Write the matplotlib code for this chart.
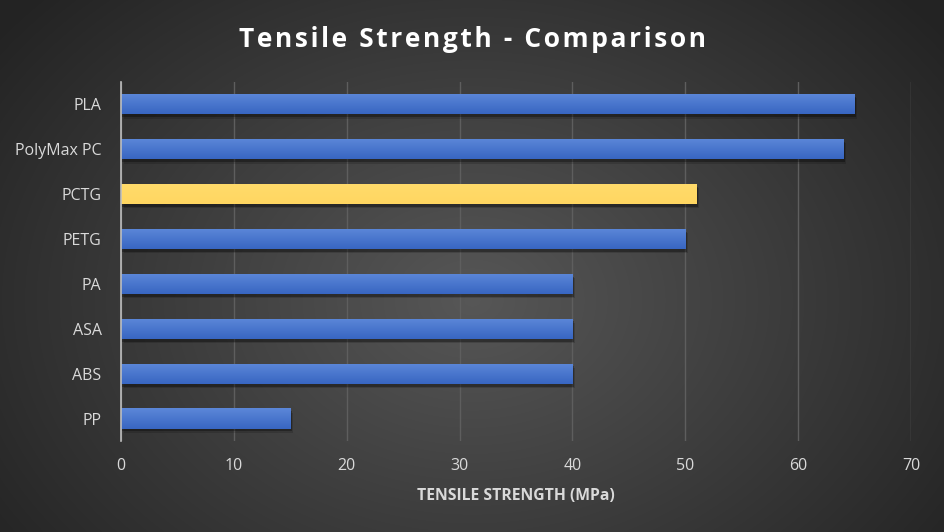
import matplotlib
matplotlib.use("Agg")
import matplotlib.pyplot as plt
import matplotlib.patheffects as pe
import numpy as np

materials = ["PLA", "PolyMax PC", "PCTG", "PETG", "PA", "ASA", "ABS", "PP"]
strength = [65, 64, 51, 50, 40, 40, 40, 15]
highlight = "PCTG"
x_ticks = [0, 10, 20, 30, 40, 50, 60, 70]
title = "Tensile Strength - Comparison"

BLUE_TOP = np.array([0.36, 0.53, 0.85])
BLUE_BOT = np.array([0.22, 0.40, 0.76])
YEL_TOP = np.array([1.00, 0.86, 0.42])
YEL_BOT = np.array([1.00, 0.84, 0.38])
TEXT = "#d9d9d9"

plt.rcParams["font.family"] = ["Open Sans", "DejaVu Sans"]

fig = plt.figure(figsize=(9.45, 5.32), dpi=100)

# radial gradient background
bg = fig.add_axes([0, 0, 1, 1], zorder=-10)
yy, xx = np.mgrid[0:532, 0:945]
r = np.sqrt(((xx - 472) / 560.0) ** 2 + ((yy - 300) / 420.0) ** 2)
shade = np.clip(0.34 - 0.19 * r, 0.14, 0.34)
bg.imshow(np.dstack([shade] * 3), aspect="auto", extent=[0, 1, 0, 1])
bg.axis("off")

ax = fig.add_axes([0.128, 0.171, 0.836, 0.675])
ax.set_facecolor("none")

ypos = np.arange(len(materials))
bars = ax.barh(ypos, strength, height=0.45, color="#4472c4", zorder=3,
               path_effects=[pe.SimplePatchShadow(offset=(1, -2), alpha=0.3, shadow_rgbFace="black"),
                             pe.SimplePatchShadow(offset=(2, -3), alpha=0.15, shadow_rgbFace="black"),
                             pe.Normal()])

grad = np.linspace(0, 1, 50)[:, None]
for b, name in zip(bars, materials):
    top, bot = (YEL_TOP, YEL_BOT) if name == highlight else (BLUE_TOP, BLUE_BOT)
    img = top[None, None, :] * (1 - grad[..., None]) + bot[None, None, :] * grad[..., None]
    x0, y0 = b.get_x(), b.get_y()
    w, h = b.get_width(), b.get_height()
    im = ax.imshow(img, extent=[x0, x0 + w, y0 + h, y0], aspect="auto", zorder=4,
                   interpolation="bilinear")
    im.set_clip_path(b)

ax.set_xlim(0, 70)
ax.set_ylim(len(materials) - 0.5, -0.5)
ax.set_xticks(x_ticks)
ax.set_yticks(ypos)
ax.set_yticklabels(materials)
ax.tick_params(axis="both", length=0, colors=TEXT, labelsize=11.5)
ax.tick_params(axis="x", pad=12)
ax.tick_params(axis="y", pad=14)
ax.grid(axis="x", color="#5e5e5e", linewidth=1, zorder=0)
for s in ["top", "right", "bottom"]:
    ax.spines[s].set_visible(False)
ax.spines["left"].set_color("#bfbfbf")
ax.spines["left"].set_linewidth(1.2)
ax.spines["left"].set_zorder(5)

ax.set_xlabel("TENSILE STRENGTH (MPa)", color=TEXT, fontsize=11.3, fontweight="bold", labelpad=10)

# slight letter spacing on the title, like the original
fig.text(0.5, 0.926, "\u200a".join(title),
         ha="center", va="center", color="white", fontsize=19, fontweight="bold")

fig.savefig("out.png", dpi=100)
